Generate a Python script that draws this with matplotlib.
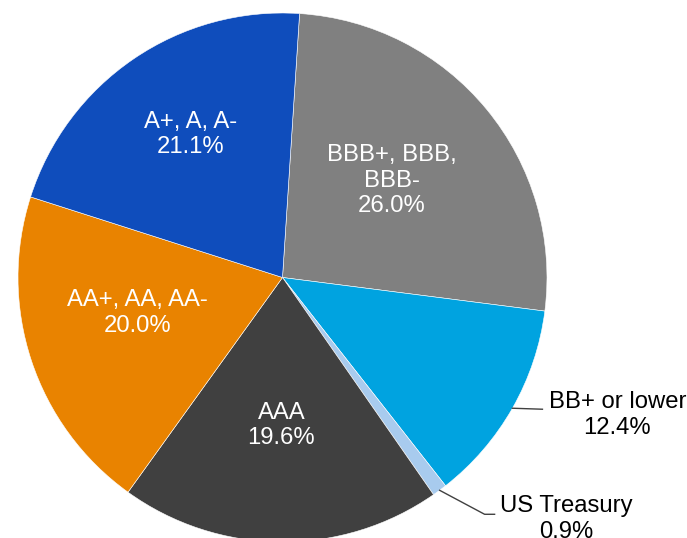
import numpy as np
import matplotlib.pyplot as plt

plt.rcParams['font.family'] = ['Liberation Sans', 'DejaVu Sans']

# data
labels = ['BBB+, BBB,\nBBB-', 'BB+ or lower', 'US Treasury', 'AAA', 'AA+, AA, AA-', 'A+, A, A-']
shares = [26.0, 12.4, 0.9, 19.6, 20.0, 21.1]
colors = ['#808080', '#00A3E0', '#A8CBEE', '#404040', '#E98300', '#0F4DBC']

W, H = 687, 538
cx, cy, R = 282.5, H - 277.5, 264.5

fig = plt.figure(figsize=(W / 100, H / 100), dpi=100)
ax = fig.add_axes([0, 0, 1, 1])

wedges, _ = ax.pie(shares, colors=colors, startangle=86.3, counterclock=False,
                   center=(cx, cy), radius=R,
                   wedgeprops=dict(edgecolor='white', linewidth=0.4))
ax.set_xlim(0, W)
ax.set_ylim(0, H)
ax.set_aspect('equal')
ax.axis('off')

fs = 17.2
ls = 1.22

def mid_point(w, frac, shift=0.0):
    a = np.deg2rad((w.theta1 + w.theta2) / 2 + shift)
    return cx + frac * R * np.cos(a), cy + frac * R * np.sin(a)

# labels inside the slices: (radius fraction, angle shift)
inside = {0: (0.553, 2.0), 3: (0.56, 0.0), 4: (0.565, -4.4), 5: (0.643, -1.5)}
for i, (frac, shift) in inside.items():
    x, y = mid_point(wedges[i], frac, shift)
    ax.text(x, y, f'{labels[i]}\n{shares[i]:.1f}%', color='white', fontsize=fs,
            ha='center', va='center', linespacing=ls)

# BB+ label with leader line
ex, ey = mid_point(wedges[1], 1.0)
ax.plot([ex, ex + 30], [ey, ey - 1], color='#404040', lw=1)
ax.text(ex + 105, ey - 7, f'{labels[1]}\n{shares[1]:.1f}%', color='black', fontsize=fs,
        ha='center', va='center', linespacing=ls)

# US Treasury label with leader line
ex, ey = mid_point(wedges[2], 1.0)
ax.plot([ex, ex + 45, ex + 55], [ey, ey - 24, ey - 24], color='#404040', lw=1)
ax.text(ex + 127, ey - 29, f'{labels[2]}\n{shares[2]:.1f}%', color='black', fontsize=fs,
        ha='center', va='center', linespacing=ls)

fig.savefig('out.png', dpi=100)
